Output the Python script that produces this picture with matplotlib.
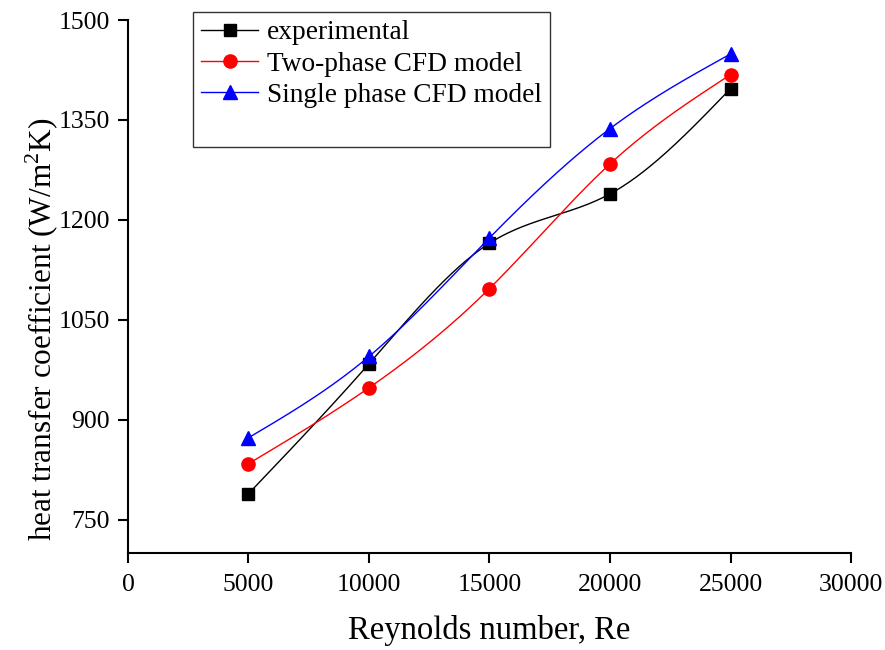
import numpy as np
import matplotlib
matplotlib.use("Agg")
import matplotlib.pyplot as plt
from matplotlib.lines import Line2D

plt.rcParams['font.family'] = ['Liberation Serif', 'DejaVu Serif']
plt.rcParams['mathtext.fontset'] = 'custom'
plt.rcParams['mathtext.rm'] = 'Liberation Serif'

# Reynolds number
RE = [5000, 10000, 15000, 20000, 25000]

# heat transfer coefficient (W/m2K)
EXPERIMENTAL = [789, 984, 1165, 1239, 1397]
TWO_PHASE = [834, 948, 1097, 1284, 1418]
SINGLE_PHASE = [873, 995, 1173, 1337, 1449]

LABELS = ["experimental", "Two-phase CFD model", "Single phase CFD model"]


def natural_spline(x, y, n=200):
    # plain natural cubic spline, like Origin's "spline" connect mode
    x = np.asarray(x, float)
    y = np.asarray(y, float)
    k = len(x)
    h = np.diff(x)
    A = np.zeros((k, k))
    b = np.zeros(k)
    A[0, 0] = 1
    A[-1, -1] = 1
    for i in range(1, k - 1):
        A[i, i - 1] = h[i - 1]
        A[i, i] = 2 * (h[i - 1] + h[i])
        A[i, i + 1] = h[i]
        b[i] = 6 * ((y[i + 1] - y[i]) / h[i] - (y[i] - y[i - 1]) / h[i - 1])
    m = np.linalg.solve(A, b)
    xs = np.linspace(x[0], x[-1], n)
    idx = np.clip(np.searchsorted(x, xs) - 1, 0, k - 2)
    x0, x1 = x[idx], x[idx + 1]
    hh = x1 - x0
    t0 = x1 - xs
    t1 = xs - x0
    ys = (m[idx] * t0 ** 3 + m[idx + 1] * t1 ** 3) / (6 * hh) \
        + (y[idx] / hh - m[idx] * hh / 6) * t0 \
        + (y[idx + 1] / hh - m[idx + 1] * hh / 6) * t1
    return xs, ys


fig = plt.figure(figsize=(8.85, 6.5), dpi=100)
ax = fig.add_axes([0.1446, 0.1492, 0.8170, 0.8200])

series = [
    (EXPERIMENTAL, 'black', 's', 8.5),
    (TWO_PHASE, 'red', 'o', 9.5),
    (SINGLE_PHASE, 'blue', '^', 10),
]

handles = []
for (vals, col, mk, ms), lab in zip(series, LABELS):
    xs, ys = natural_spline(RE, vals)
    ax.plot(xs, ys, color=col, lw=1)
    ax.plot(RE, vals, linestyle='none', marker=mk, color=col, ms=ms)
    handles.append(Line2D([], [], color=col, lw=1, marker=mk, ms=ms, label=lab))
# Origin leaves an empty row at the bottom of the legend box
handles.append(Line2D([], [], color='none', label=' '))

ax.set_xlim(0, 30000)
ax.set_ylim(700, 1500)
ax.set_xticks(np.arange(0, 30001, 5000))
ax.set_yticks(np.arange(750, 1501, 150))

ax.spines['top'].set_visible(False)
ax.spines['right'].set_visible(False)
for s in ['left', 'bottom']:
    ax.spines[s].set_linewidth(1.5)
ax.tick_params(direction='out', length=7, width=1.5, labelsize=18.5, pad=6)
ax.tick_params(axis='x', pad=8)

ax.set_xlabel("Reynolds number, Re", fontsize=23.5, labelpad=14)
ax.set_ylabel(r"heat transfer coefficient (W/m$^{\mathregular{2}}$K)", fontsize=22.5)
ax.yaxis.set_label_coords(-0.092, 0.42)

leg = ax.legend(handles=handles, loc='upper left', bbox_to_anchor=(0.0895, 1.015),
                fontsize=19.7, frameon=True, fancybox=False, edgecolor='black',
                handlelength=2.1, handletextpad=0.3, borderpad=0.3,
                labelspacing=0.22, borderaxespad=0)
leg.get_frame().set_linewidth(1)

fig.savefig("out.png", dpi=100)
